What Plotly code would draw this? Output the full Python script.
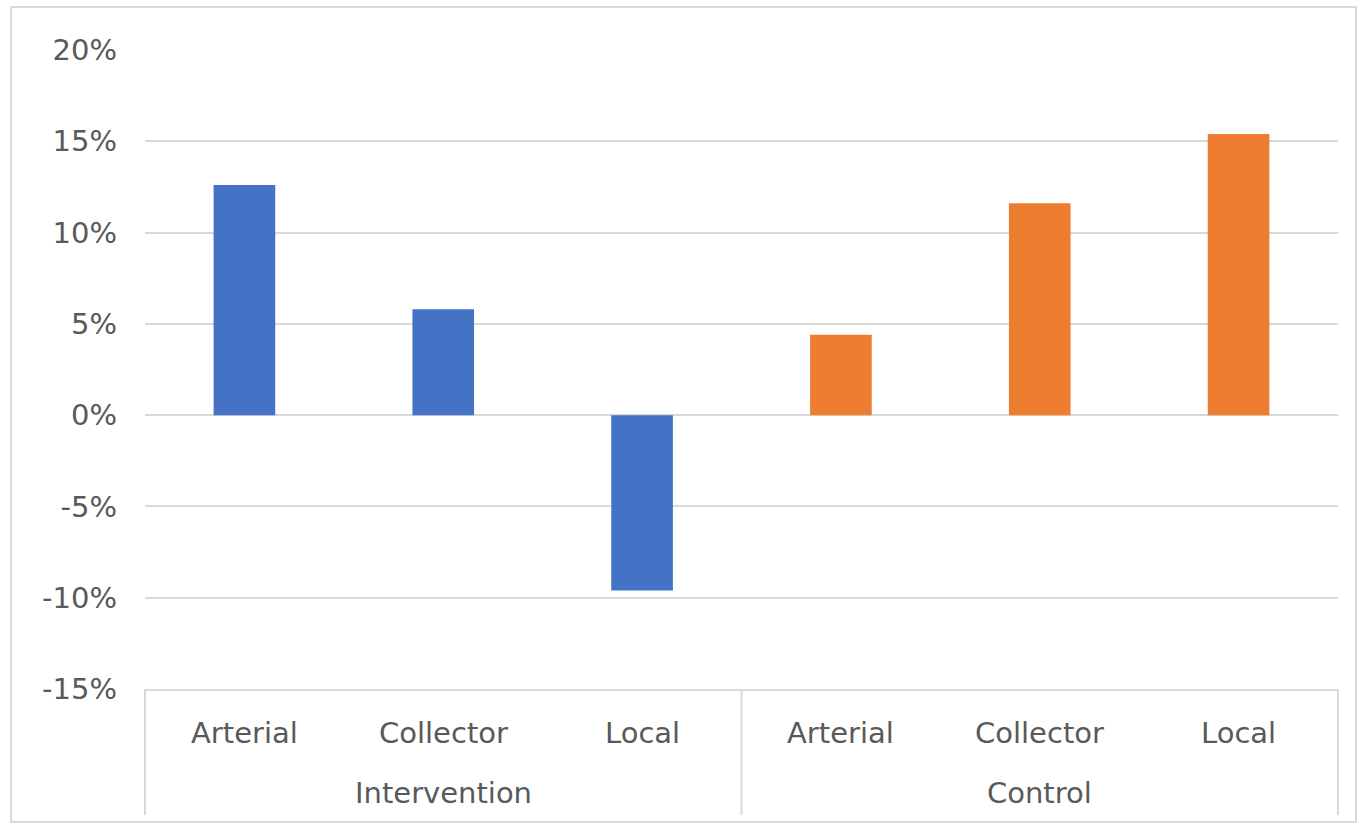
import plotly.graph_objects as go

groups = ["Intervention", "Intervention", "Intervention", "Control", "Control", "Control"]
roads = ["Arterial", "Collector", "Local", "Arterial", "Collector", "Local"]
values = [12.6, 5.8, -9.6, 4.4, 11.6, 15.4]
colors = ["#4472C4", "#4472C4", "#4472C4", "#ED7D31", "#ED7D31", "#ED7D31"]
yticks = [-15, -10, -5, 0, 5, 10, 15, 20]
yticklabels = ["-15%", "-10%", "-5%", "0%", "5%", "10%", "15%", "20%"]

W, H = 1361, 829
L, R, T, B = 145, 23, 50, 140
PW, PH = W - L - R, H - T - B
GRID = "#d9d9d9"
TXT = "#595959"
FONT = "DejaVu Sans"
FS = 29


def py(pix):  # pixel y (from top) -> paper y
    return (H - B - pix) / PH


def px(pix):
    return (pix - L) / PW


fig = go.Figure()
fig.add_trace(go.Bar(x=[groups, roads], y=values, marker_color=colors, marker_line_width=0))

fig.update_layout(
    width=W, height=H,
    margin=dict(l=L, r=R, t=T, b=B),
    paper_bgcolor="white", plot_bgcolor="white",
    bargap=0.69, showlegend=False,
    font=dict(family=FONT, size=FS, color=TXT),
)
fig.update_yaxes(
    range=[-15, 20], tickvals=yticks, ticktext=yticklabels,
    showgrid=True, gridcolor=GRID, gridwidth=2, zeroline=False,
    showline=False, ticks="", ticklabelstandoff=27,
)
fig.update_xaxes(
    type="multicategory", showline=True, linecolor=GRID, linewidth=2,
    showdividers=False, showticklabels=False, ticks="",
)

# group dividers of the category axis
n = len(roads)
bounds = [0]
for i in range(1, n):
    if groups[i] != groups[i - 1]:
        bounds.append(i)
bounds.append(n)
for b in bounds:
    fig.add_shape(type="line", xref="paper", yref="paper",
                  x0=b / n, x1=b / n, y0=0, y1=py(815),
                  line=dict(color=GRID, width=2))

# inner category labels
for i, r in enumerate(roads):
    fig.add_annotation(text=r, xref="paper", yref="paper", x=(i + 0.5) / n, y=py(733),
                       showarrow=False, xanchor="center", yanchor="middle",
                       font=dict(family=FONT, size=FS, color=TXT))
# group labels
for k in range(len(bounds) - 1):
    a, b = bounds[k], bounds[k + 1]
    fig.add_annotation(text=groups[a], xref="paper", yref="paper", x=(a + b) / 2 / n, y=py(793),
                       showarrow=False, xanchor="center", yanchor="middle",
                       font=dict(family=FONT, size=FS, color=TXT))

# chart border
fig.add_shape(type="rect", xref="paper", yref="paper",
              x0=px(11), x1=px(1356), y0=py(822), y1=py(7),
              line=dict(color=GRID, width=2), layer="below")

fig.write_html("out.html")
